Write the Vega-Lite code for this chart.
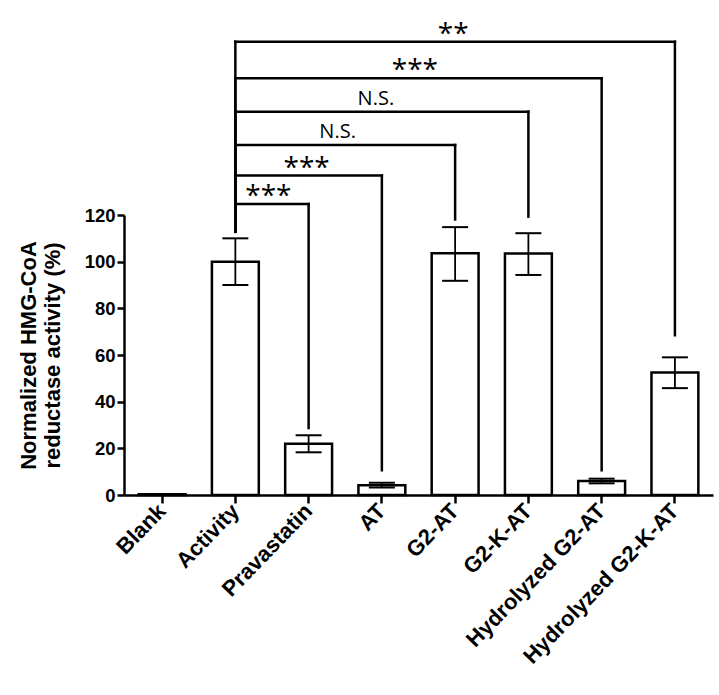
{
  "$schema": "https://vega.github.io/schema/vega-lite/v6.json",
  "width": 589,
  "height": 280,
  "padding": {"left": 17, "top": 20, "right": 5, "bottom": 5},
  "config": {"view": {"stroke": null}, "font": "Liberation Sans"},
  "datasets": {
    "bars": [
      {"group": "Blank", "mean": 0.3, "lo": 0.3, "hi": 0.3},
      {"group": "Activity", "mean": 100, "lo": 90, "hi": 110},
      {"group": "Pravastatin", "mean": 22, "lo": 18.3, "hi": 25.6},
      {"group": "AT", "mean": 4.2, "lo": 3.2, "hi": 5.2},
      {"group": "G2-AT", "mean": 103.6, "lo": 91.8, "hi": 114.8},
      {"group": "G2-K-AT", "mean": 103.5, "lo": 94.3, "hi": 112.2},
      {"group": "Hydrolyzed G2-AT", "mean": 6.0, "lo": 5.0, "hi": 7.0},
      {"group": "Hydrolyzed G2-K-AT", "mean": 52.5, "lo": 45.8, "hi": 59.0}
    ],
    "brackets": [
      {"from": "Activity", "to": "Pravastatin", "level": 124.7, "toEnd": 28.7, "fromEnd": 112.8},
      {"from": "Activity", "to": "AT", "level": 136.9, "toEnd": 10.6, "fromEnd": 112.8},
      {"from": "Activity", "to": "G2-AT", "level": 150.0, "toEnd": 118.1, "fromEnd": 112.8},
      {"from": "Activity", "to": "G2-K-AT", "level": 164.3, "toEnd": 119.3, "fromEnd": 112.8},
      {"from": "Activity", "to": "Hydrolyzed G2-AT", "level": 178.6, "toEnd": 10.6, "fromEnd": 112.8},
      {"from": "Activity", "to": "Hydrolyzed G2-K-AT", "level": 194.3, "toEnd": 68.5, "fromEnd": 112.8}
    ],
    "notes": [
      {"label": "***", "anchor": "Activity", "level": 124.7, "kind": "star", "shift": "half"},
      {"label": "***", "anchor": "Pravastatin", "level": 136.9, "kind": "star", "shift": "mid"},
      {"label": "N.S.", "anchor": "Pravastatin", "level": 150.0, "kind": "ns", "shift": "half"},
      {"label": "N.S.", "anchor": "AT", "level": 164.3, "kind": "ns", "shift": "mid"},
      {"label": "***", "anchor": "AT", "level": 178.6, "kind": "star", "shift": "half"},
      {"label": "**", "anchor": "G2-AT", "level": 194.3, "kind": "star", "shift": "mid"}
    ]
  },
  "layer": [
    {
      "data": {"name": "bars"},
      "mark": {"type": "bar", "fill": "white", "stroke": "black", "strokeWidth": 2.5},
      "encoding": {
        "x": {
          "field": "group", "type": "nominal", "sort": null,
          "scale": {"paddingInner": 0.36, "paddingOuter": 0.2},
          "axis": {
            "title": null, "labelAngle": -46, "labelAlign": "right", "labelBaseline": "middle",
            "labelFont": "Liberation Sans", "labelFontWeight": "bold", "labelFontSize": 22, "labelColor": "black",
            "labelLimit": 400, "labelPadding": 4, "tickSize": 8, "tickWidth": 2.5, "tickColor": "black",
            "domainWidth": 2.5, "domainColor": "black"
          }
        },
        "y": {
          "field": "mean", "type": "quantitative",
          "scale": {"domain": [0, 120], "nice": false},
          "axis": {
            "title": ["Normalized HMG-CoA", "reductase activity (%)"],
            "titleFont": "Liberation Sans", "titleFontWeight": "bold", "titleFontSize": 22, "titleColor": "black",
            "titleLineHeight": 24, "titlePadding": 20,
            "values": [0, 20, 40, 60, 80, 100, 120], "grid": false,
            "labelFont": "Liberation Sans", "labelFontWeight": "bold", "labelFontSize": 18.5, "labelColor": "black",
            "labelPadding": 2, "tickSize": 7, "tickWidth": 2.5, "tickColor": "black",
            "domainWidth": 2.5, "domainColor": "black"
          }
        }
      }
    },
    {
      "data": {"name": "bars"},
      "mark": {"type": "rule", "color": "black", "strokeWidth": 1.8},
      "encoding": {
        "x": {"field": "group", "type": "nominal", "sort": null},
        "y": {"field": "lo", "type": "quantitative"},
        "y2": {"field": "hi"}
      }
    },
    {
      "data": {"name": "bars"},
      "mark": {"type": "tick", "color": "black", "size": 26, "thickness": 2, "opacity": 1},
      "encoding": {
        "x": {"field": "group", "type": "nominal", "sort": null},
        "y": {"field": "lo", "type": "quantitative"}
      }
    },
    {
      "data": {"name": "bars"},
      "mark": {"type": "tick", "color": "black", "size": 26, "thickness": 2, "opacity": 1},
      "encoding": {
        "x": {"field": "group", "type": "nominal", "sort": null},
        "y": {"field": "hi", "type": "quantitative"}
      }
    },
    {
      "data": {"name": "brackets"},
      "mark": {"type": "rule", "color": "black", "strokeWidth": 2.5, "strokeCap": "square"},
      "encoding": {
        "x": {"field": "from", "type": "nominal", "sort": null},
        "x2": {"field": "to"},
        "y": {"field": "level", "type": "quantitative"}
      }
    },
    {
      "data": {"name": "brackets"},
      "mark": {"type": "rule", "color": "black", "strokeWidth": 2.5, "strokeCap": "square"},
      "encoding": {
        "x": {"field": "to", "type": "nominal", "sort": null},
        "y": {"field": "level", "type": "quantitative"},
        "y2": {"field": "toEnd"}
      }
    },
    {
      "data": {"name": "brackets"},
      "mark": {"type": "rule", "color": "black", "strokeWidth": 2.5, "strokeCap": "square"},
      "encoding": {
        "x": {"field": "from", "type": "nominal", "sort": null},
        "y": {"field": "level", "type": "quantitative"},
        "y2": {"field": "fromEnd"}
      }
    },
    {
      "data": {"name": "notes"},
      "transform": [{"filter": "datum.kind == 'star' && datum.shift == 'mid'"}],
      "mark": {"type": "text", "font": "Open Sans", "fontSize": 28, "baseline": "alphabetic", "align": "center", "color": "black", "dx": -2, "dy": 1},
      "encoding": {
        "x": {"field": "anchor", "type": "nominal", "sort": null},
        "y": {"field": "level", "type": "quantitative"},
        "text": {"field": "label"}
      }
    },
    {
      "data": {"name": "notes"},
      "transform": [{"filter": "datum.kind == 'star' && datum.shift == 'half'"}],
      "mark": {"type": "text", "font": "Open Sans", "fontSize": 28, "baseline": "alphabetic", "align": "center", "color": "black", "dx": 33, "dy": 1},
      "encoding": {
        "x": {"field": "anchor", "type": "nominal", "sort": null},
        "y": {"field": "level", "type": "quantitative"},
        "text": {"field": "label"}
      }
    },
    {
      "data": {"name": "notes"},
      "transform": [{"filter": "datum.kind == 'ns' && datum.shift == 'mid'"}],
      "mark": {"type": "text", "font": "Open Sans", "fontSize": 20, "baseline": "alphabetic", "align": "center", "color": "black", "dx": -6, "dy": -7},
      "encoding": {
        "x": {"field": "anchor", "type": "nominal", "sort": null},
        "y": {"field": "level", "type": "quantitative"},
        "text": {"field": "label"}
      }
    },
    {
      "data": {"name": "notes"},
      "transform": [{"filter": "datum.kind == 'ns' && datum.shift == 'half'"}],
      "mark": {"type": "text", "font": "Open Sans", "fontSize": 20, "baseline": "alphabetic", "align": "center", "color": "black", "dx": 29, "dy": -7},
      "encoding": {
        "x": {"field": "anchor", "type": "nominal", "sort": null},
        "y": {"field": "level", "type": "quantitative"},
        "text": {"field": "label"}
      }
    }
  ]
}
